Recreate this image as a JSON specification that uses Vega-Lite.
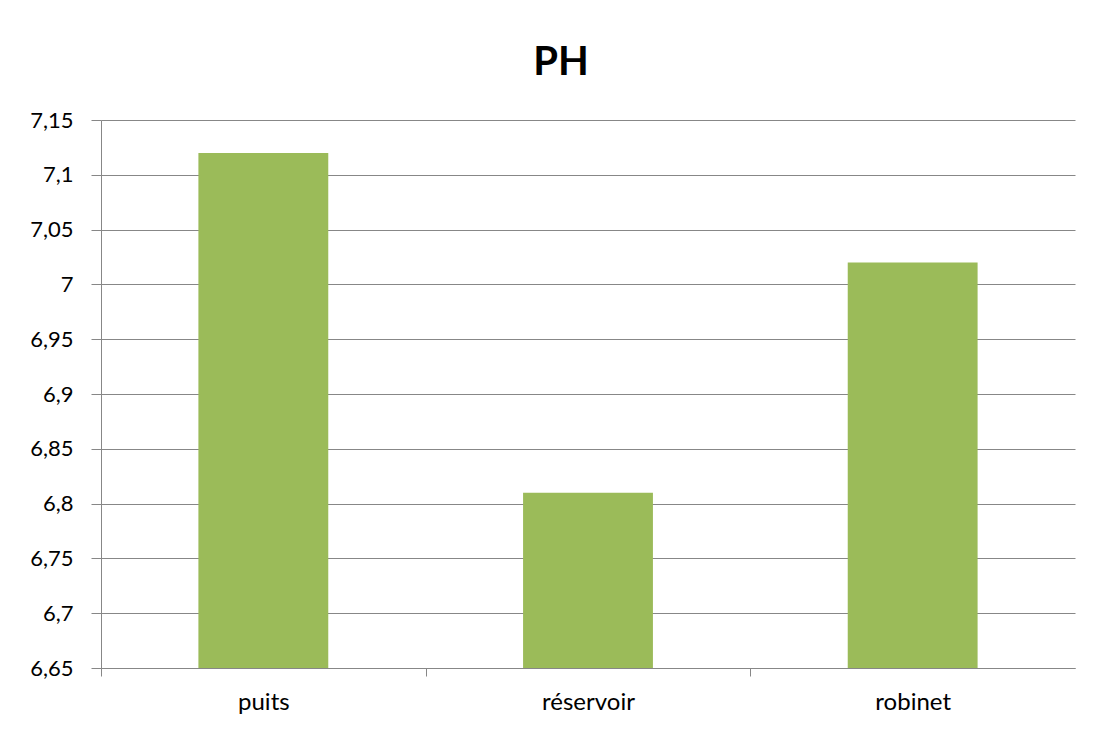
{
  "$schema": "https://vega.github.io/schema/vega-lite/v6.json",
  "autosize": "none",
  "width": 974,
  "height": 548,
  "padding": {"left": 101, "top": 120, "right": 21, "bottom": 81},
  "background": "white",
  "title": {
    "text": "PH",
    "font": "Lato",
    "fontSize": 40,
    "fontWeight": "bold",
    "color": "#000000",
    "anchor": "middle",
    "dx": -27,
    "dy": -22
  },
  "data": {
    "values": [
      {"site": "puits", "ph": 7.12},
      {"site": "réservoir", "ph": 6.81},
      {"site": "robinet", "ph": 7.02}
    ]
  },
  "mark": {"type": "bar", "color": "#9BBB59"},
  "encoding": {
    "x": {
      "field": "site",
      "type": "nominal",
      "sort": null,
      "scale": {"paddingInner": 0.6, "paddingOuter": 0.3},
      "axis": {
        "title": null,
        "labelAngle": 0,
        "labelFont": "Lato",
        "labelFontSize": 24,
        "labelColor": "#000000",
        "labelPadding": 14,
        "tickSize": 8,
        "tickColor": "#878787",
        "domainColor": "#878787",
        "tickOffset": -162.33,
        "labelOffset": 162.33
      }
    },
    "y": {
      "field": "ph",
      "type": "quantitative",
      "scale": {"domain": [6.65, 7.15], "zero": false, "nice": false},
      "axis": {
        "title": null,
        "values": [6.65, 6.7, 6.75, 6.8, 6.85, 6.9, 6.95, 7, 7.05, 7.1, 7.15],
        "format": "~g",
        "labelFont": "Lato",
        "labelFontSize": 22,
        "labelColor": "#000000",
        "labelPadding": 18,
        "tickSize": 10,
        "tickColor": "#878787",
        "domainColor": "#878787",
        "grid": true,
        "gridColor": "#878787",
        "gridOpacity": 1
      }
    },
    "y2": {"datum": 6.65}
  },
  "config": {
    "view": {"stroke": null},
    "locale": {
      "number": {"decimal": ",", "thousands": " ", "grouping": [3], "currency": ["", " €"]}
    }
  }
}
